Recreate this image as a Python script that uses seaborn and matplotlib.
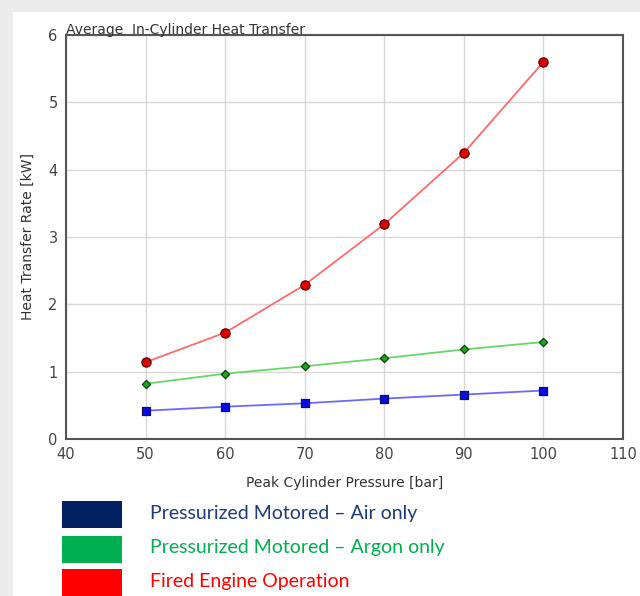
import matplotlib
matplotlib.use("Agg")
import matplotlib.pyplot as plt
import seaborn as sns
import pandas as pd
from matplotlib.patches import Rectangle

pressure = [50, 60, 70, 80, 90, 100]
air_only = [0.42, 0.48, 0.53, 0.60, 0.66, 0.72]
argon_only = [0.82, 0.97, 1.08, 1.20, 1.33, 1.44]
fired = [1.14, 1.58, 2.29, 3.19, 4.25, 5.60]
x_ticks = [40, 50, 60, 70, 80, 90, 100, 110]
y_ticks = [0, 1, 2, 3, 4, 5, 6]
legend_labels = ["Pressurized Motored \u2013 Air only",
                 "Pressurized Motored \u2013 Argon only",
                 "Fired Engine Operation"]

sns.set_theme(style="white")
plt.rcParams['font.family'] = ['DejaVu Sans']

df = pd.DataFrame({
    "pressure": pressure * 3,
    "rate": air_only + argon_only + fired,
    "series": ["air"] * 6 + ["argon"] * 6 + ["fired"] * 6,
})

fig = plt.figure(figsize=(6.4, 5.96), dpi=100)
fig.patch.set_facecolor("#ececec")
fig.patches.append(Rectangle((13 / 640, 0), 1, 1 - 12 / 596, transform=fig.transFigure,
                             facecolor="white", edgecolor="none", zorder=-10))

ax = fig.add_axes([66 / 640, 1 - 439 / 596, (623 - 66) / 640, (439 - 35) / 596])
ax.set_zorder(5)
ax.set_facecolor("white")

line_pal = {"air": "#6a6aff", "argon": "#6ad66a", "fired": "#ff6a6a"}
sns.lineplot(data=df, x="pressure", y="rate", hue="series", palette=line_pal,
             ax=ax, legend=False, linewidth=1.3, zorder=3)

marker_styles = {
    "air": dict(marker="s", s=40, color="#0a0ae6", edgecolor="#10105a"),
    "argon": dict(marker="D", s=18, color="#1ea51e", edgecolor="#104010"),
    "fired": dict(marker="o", s=44, color="#e00000", edgecolor="#5a0000"),
}
for key, st in marker_styles.items():
    sub = df[df["series"] == key]
    sns.scatterplot(data=sub, x="pressure", y="rate", ax=ax, marker=st["marker"], s=st["s"],
                    color=st["color"], edgecolor=st["edgecolor"], linewidth=0.9,
                    zorder=4, legend=False)

ax.set_xlim(40, 110)
ax.set_ylim(0, 6)
ax.set_xticks(x_ticks)
ax.set_yticks(y_ticks)
ax.grid(True, color="#d8d8d8", linewidth=1.0)
ax.set_axisbelow(True)
for sp in ax.spines.values():
    sp.set_color("#555555")
    sp.set_linewidth(1.5)
ax.tick_params(axis="both", direction="in", length=4, width=1, color="#555555",
               labelsize=10.5, labelcolor="#444444", pad=6)
ax.set_xlabel("Peak Cylinder Pressure [bar]", fontsize=10, color="#333333", labelpad=10)
ax.set_ylabel("Heat Transfer Rate [kW]", fontsize=10, color="#333333", labelpad=10)
ax.set_title("Average  In-Cylinder Heat Transfer", loc="left", fontsize=10,
             color="#333333", pad=1, x=0.0)

leg_fill = ["#002060", "#00b050", "#ff0000"]
leg_text = ["#1f3a7a", "#00b050", "#ff0000"]
ys = [500, 535, 568]
for y, fc, tc, lab in zip(ys, leg_fill, leg_text, legend_labels):
    fig.patches.append(Rectangle((62 / 640, 1 - (y + 28) / 596), 60 / 640, 27 / 596,
                                 transform=fig.transFigure, facecolor=fc,
                                 edgecolor="none", zorder=2))
    fig.text(150 / 640, 1 - (y + 13) / 596, lab, color=tc, fontsize=14,
             family=["Lato", "DejaVu Sans"], va="center", ha="left")

fig.savefig("out.png", dpi=100, facecolor=fig.get_facecolor())
